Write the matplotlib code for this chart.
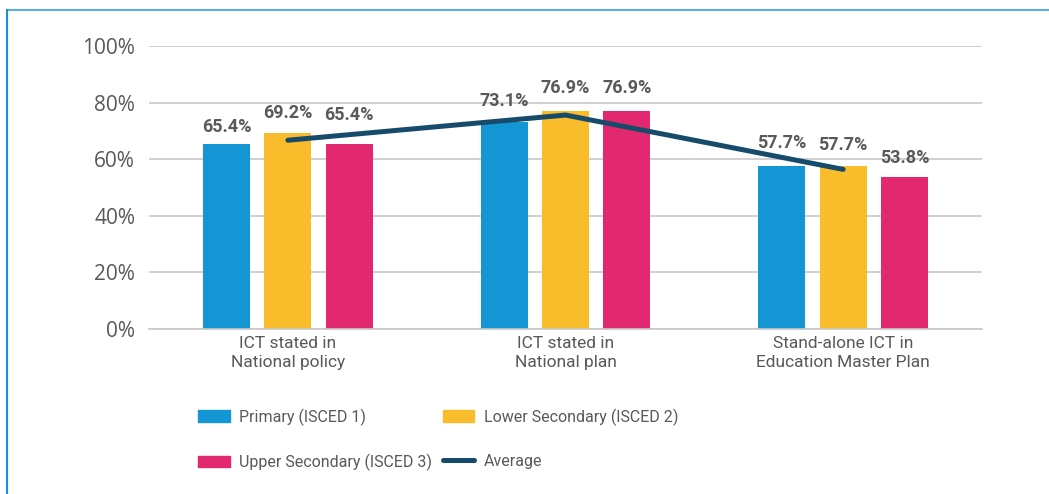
import numpy as np
import matplotlib
matplotlib.use('Agg')
import matplotlib.pyplot as plt
from matplotlib.lines import Line2D
from matplotlib.patches import Patch

# Data
categories = ['ICT stated in\nNational policy', 'ICT stated in\nNational plan',
              'Stand-alone ICT in\nEducation Master Plan']
primary = [65.4, 73.1, 57.7]
lower_secondary = [69.2, 76.9, 57.7]
upper_secondary = [65.4, 76.9, 53.8]
average = [66.7, 75.6, 56.4]
yticks = [0, 20, 40, 60, 80, 100]

series_names = ['Primary (ISCED 1)', 'Lower Secondary (ISCED 2)', 'Upper Secondary (ISCED 3)']
colors = ['#1496d4', '#f9bc2a', '#e2296f']
line_color = '#174b6b'
text_color = '#58595b'

# gap (in px) between bar top and its value label, per series / category
label_gaps = [[8, 12, 14], [11, 14, 12], [20, 14, 10]]

narrow = ['Roboto', 'DejaVu Sans']
plt.rcParams['font.family'] = ['Open Sans', 'DejaVu Sans']

fig = plt.figure(figsize=(10.49, 4.94), dpi=100)
ax = fig.add_axes([149 / 1049, 1 - 329 / 494, (982 - 149) / 1049, (329 - 46) / 494])

x = np.arange(len(categories))
width = 0.17
offset = 0.221

for i, (vals, c) in enumerate(zip([primary, lower_secondary, upper_secondary], colors)):
    xpos = x + (i - 1) * offset
    ax.bar(xpos, vals, width=width, color=c, zorder=2)
    for j, (xp, v) in enumerate(zip(xpos, vals)):
        ax.annotate(f'{v:.1f}%', (xp, v), xytext=(0, label_gaps[i][j] * 0.72),
                    textcoords='offset points', ha='center', va='bottom', fontsize=13,
                    fontweight='bold', color=text_color, family=narrow, zorder=4)

ax.plot(x, average, color=line_color, linewidth=3.6, solid_capstyle='round', zorder=3)

ax.set_xlim(-0.5, 2.5)
ax.set_ylim(0, 100)
ax.set_yticks(yticks)
ax.set_yticklabels([f'{t}%' for t in yticks], fontsize=15, color=text_color)
ax.set_xticks(x)
ax.set_xticklabels(categories, fontsize=12.5, color=text_color, family=narrow, linespacing=1.33)
ax.tick_params(axis='both', length=0)
ax.tick_params(axis='y', pad=10)
ax.tick_params(axis='x', pad=5)
ax.grid(axis='y', color='#c8c8c8', linewidth=1.2, zorder=0)
for s in ['top', 'right', 'left']:
    ax.spines[s].set_visible(False)
ax.spines['bottom'].set_color('#c8c8c8')
ax.spines['bottom'].set_linewidth(1.2)

# Legend (two columns, filled column-wise)
handles = [Patch(color=colors[0]), Patch(color=colors[2]),
           Patch(color=colors[1]), Line2D([], [], color=line_color, linewidth=3.6, solid_capstyle='round')]
labels = [series_names[0], series_names[2], series_names[1], 'Average']
fig.legend(handles, labels, ncol=2, loc='upper left', bbox_to_anchor=(184 / 1049, 1 - 394 / 494),
           frameon=False, prop={'family': narrow, 'size': 11.5}, labelcolor=text_color,
           handlelength=1.95, handleheight=0.75, handletextpad=0.6, columnspacing=0.7,
           labelspacing=1.75)

# Thin blue frame along the top and left edge
fig.add_artist(Line2D([6.5 / 1049, 1], [1 - 10.5 / 494, 1 - 10.5 / 494], color='#5aaee0',
                      linewidth=1.5, transform=fig.transFigure))
fig.add_artist(Line2D([6.5 / 1049, 6.5 / 1049], [0, 1 - 10.5 / 494], color='#1a8fd6',
                      linewidth=1.5, transform=fig.transFigure))

fig.savefig('out.png', dpi=100)
